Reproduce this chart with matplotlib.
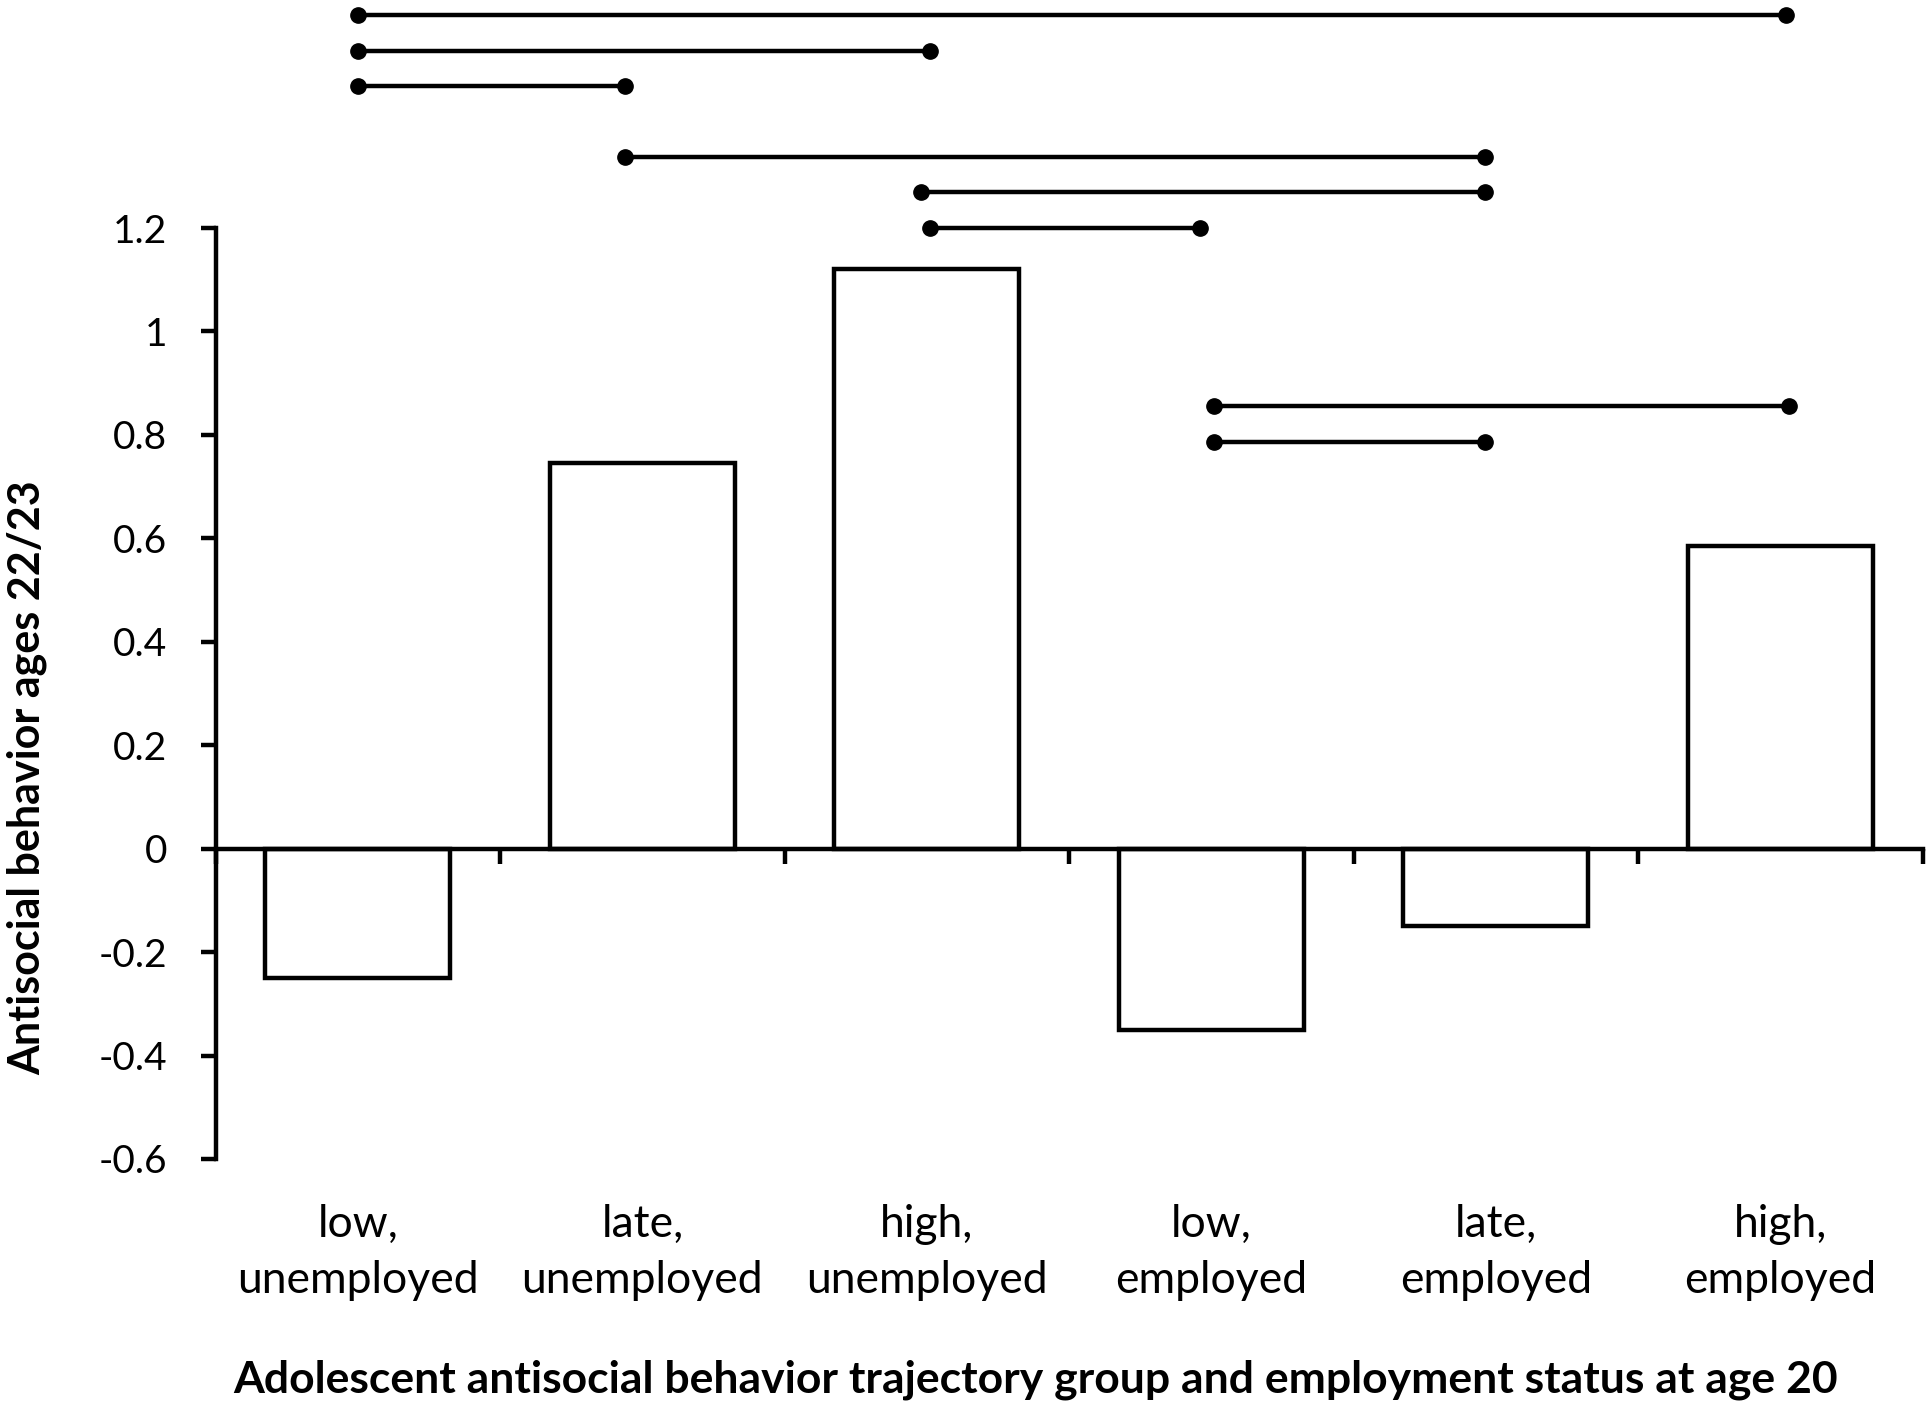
import matplotlib.pyplot as plt
from matplotlib.transforms import blended_transform_factory

plt.rcParams['font.family'] = ['Lato', 'DejaVu Sans']

# data
categories = ['low,\nunemployed', 'late,\nunemployed', 'high,\nunemployed',
              'low,\nemployed', 'late,\nemployed', 'high,\nemployed']
values = [-0.25, 0.745, 1.12, -0.35, -0.15, 0.585]

# significance brackets: (y level, x start, x end) in category units
bracket_y = [1.612, 1.543, 1.474, 1.338, 1.269, 1.200, 0.855, 0.786]
bracket_x0 = [0.0, 0.0, 0.0, 0.94, 1.98, 2.01, 3.01, 3.01]
bracket_x1 = [5.02, 2.01, 0.94, 3.96, 3.96, 2.96, 5.03, 3.96]

yticks = [-0.6, -0.4, -0.2, 0, 0.2, 0.4, 0.6, 0.8, 1.0, 1.2]
yticklabels = ['-0.6', '-0.4', '-0.2', '0', '0.2', '0.4', '0.6', '0.8', '1', '1.2']

fig = plt.figure(figsize=(19.32, 14.11), dpi=100)
ax = fig.add_axes([0.1116, 0.1786, 0.8836, 0.6598])

lw = 3.2
x = list(range(len(categories)))
ax.bar(x, values, width=0.65, color='white', edgecolor='black', linewidth=lw, zorder=2)

for yb, a, b in zip(bracket_y, bracket_x0, bracket_x1):
    ax.plot([a, b], [yb, yb], color='black', linewidth=lw, marker='o',
            markersize=11, clip_on=False, zorder=3)

ax.set_xlim(-0.5, 5.5)
ax.set_ylim(-0.6, 1.2)

for s in ['top', 'right']:
    ax.spines[s].set_visible(False)
ax.spines['left'].set_linewidth(lw)
ax.spines['bottom'].set_linewidth(lw)
ax.spines['bottom'].set_position(('data', 0))
ax.spines['bottom'].set_zorder(4)

ax.set_yticks(yticks)
ax.set_yticklabels(yticklabels)
ax.tick_params(axis='y', direction='out', length=11, width=lw, pad=24, labelsize=28)

ax.set_xticks([i + 0.5 for i in range(-1, 6)])
ax.set_xticklabels([])
ax.tick_params(axis='x', direction='out', length=11, width=lw)

trans = blended_transform_factory(ax.transData, ax.transAxes)
for i, lab in enumerate(categories):
    ax.text(i, -0.100, lab, transform=trans, ha='center', va='center',
            fontsize=32, linespacing=1.45)

fig.text(0.014, 0.449, 'Antisocial behavior ages 22/23', rotation=90,
         ha='center', va='center', fontsize=31, fontweight='bold')
fig.text(0.536, 0.022, 'Adolescent antisocial behavior trajectory group and employment status at age 20',
         ha='center', va='center', fontsize=32, fontweight='bold')

fig.savefig('out.png', dpi=100)
